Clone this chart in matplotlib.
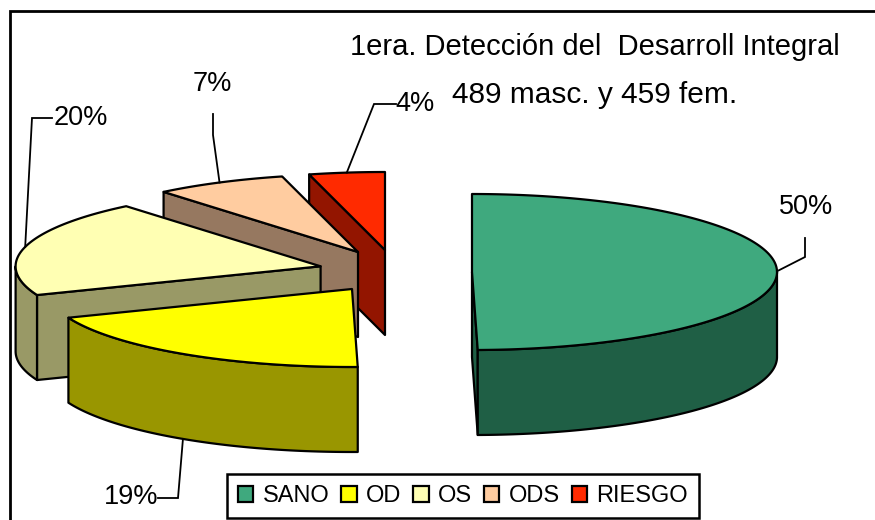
import numpy as np
import matplotlib
matplotlib.use("Agg")
import matplotlib.pyplot as plt
from matplotlib.patches import Polygon, Rectangle, Patch

# ---- data ----
categories = ["SANO", "OD", "OS", "ODS", "RIESGO"]
values = [49.7, 19.3, 20.0, 7.0, 4.0]
title_lines = ["1era. Detección del  Desarroll Integral", "489 masc. y 459 fem."]

# ---- style ----
top_colors = ["#3FA97E", "#FFFF00", "#FFFFB3", "#FFCCA0", "#FF2A00"]
side_colors = ["#1F5F45", "#999600", "#999966", "#967860", "#931500"]
centers = [(472, 272), (352, 289), (320.6, 266.3), (358, 252), (385, 250)]
label_pos = [(806, 214), (131, 504), (81, 125), (212, 91), (415, 111)]
label_knots = [[(805, 238), (805, 257)], [(158, 498), (178, 498)], [(52, 118), (32, 118)],
               [(213, 114), (213, 135)], [(396, 104), (374, 104)]]
RX, RY, DEPTH = 305, 78, 85
LW = 1.6
FONT = "Liberation Sans"

fig = plt.figure(figsize=(8.75, 5.2), dpi=100, facecolor="white")
ax = fig.add_axes([0, 0, 1, 1])
ax.set_xlim(0, 875)
ax.set_ylim(520, 0)
ax.axis("off")

ax.add_patch(Rectangle((10, 11), 1000, 1000, fc="white", ec="black", lw=2, zorder=0))


def rim(c, deg):
    t = np.radians(deg)
    return np.column_stack((c[0] + RX * np.sin(t), c[1] - RY * np.cos(t)))


v = np.array(values, dtype=float)
edges = np.concatenate(([0.0], np.cumsum(v) / v.sum() * 360.0))
style = dict(ec="black", lw=LW, joinstyle="round")
down = np.array([0, DEPTH])

# painter's order: back slices first
for z, i in enumerate([4, 3, 2, 1, 0]):
    a0, a1 = edges[i], edges[i + 1]
    c = np.array(centers[i], dtype=float)
    zz = 2 + z
    # cut faces turned to the viewer
    for ang, show in ((a0, np.sin(np.radians(a0)) < -1e-6), (a1, np.sin(np.radians(a1)) > 1e-6)):
        if show:
            p = rim(c, ang)[0]
            ax.add_patch(Polygon([c, p, p + down, c + down], fc=side_colors[i], zorder=zz, **style))
    # outer wall, front half only
    lo, hi = max(a0, 90), min(a1, 270)
    if lo < hi:
        arc = rim(c, np.linspace(lo, hi, 120))
        ax.add_patch(Polygon(np.vstack((arc, (arc + down)[::-1])), fc=side_colors[i], zorder=zz, **style))
    # top face
    arc = rim(c, np.linspace(a0, a1, 200))
    ax.add_patch(Polygon(np.vstack(([c], arc)), fc=top_colors[i], zorder=zz, **style))

# percentage labels and leader lines
for i, val in enumerate(values):
    mid = (edges[i] + edges[i + 1]) / 2
    anchor = rim(centers[i], mid)[0]
    if 90 < mid < 270:
        anchor = anchor + down
    pts = np.vstack((label_knots[i], [anchor]))
    ax.plot(pts[:, 0], pts[:, 1], color="black", lw=1.3, zorder=10, solid_joinstyle="miter")
    ax.text(*label_pos[i], f"{round(val)}%", family=FONT, fontsize=19.5, ha="center",
            va="baseline", color="black", zorder=11)

# title
ax.text(595, 55, title_lines[0], family=FONT, fontsize=21, ha="center", va="baseline", zorder=11)
ax.text(595, 103, title_lines[1], family=FONT, fontsize=21.5, ha="center", va="baseline", zorder=11)

# legend
handles = [Patch(fc=col, ec="black", lw=1.6, label=name) for col, name in zip(top_colors, categories)]
leg = ax.legend(handles=handles, ncol=5, loc="center", bbox_to_anchor=(463, 496),
                bbox_transform=ax.transData, frameon=True, fancybox=False, framealpha=1,
                edgecolor="black", prop={"family": FONT, "size": 17},
                handlelength=0.65, handleheight=0.65, handletextpad=0.4, columnspacing=0.5,
                borderpad=0.46, borderaxespad=0)
leg.get_frame().set_linewidth(1.8)
leg.set_zorder(12)

fig.savefig("out.png", dpi=100)
